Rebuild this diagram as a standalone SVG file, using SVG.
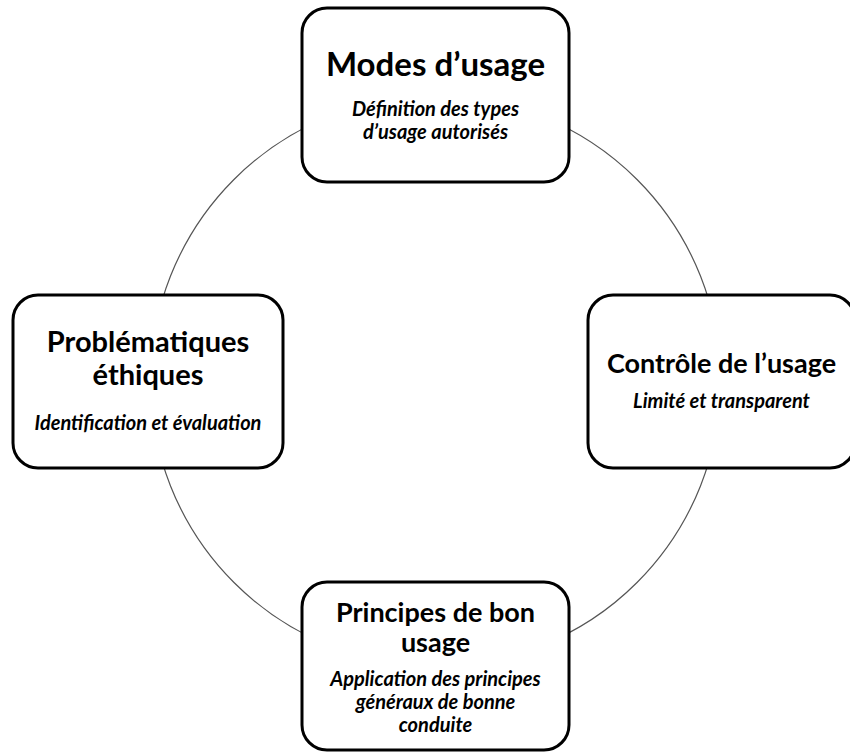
<svg xmlns="http://www.w3.org/2000/svg" width="850" height="753" viewBox="0 0 850 753">
<style>
.box{fill:#fff;stroke:#000;stroke-width:3}
.ring{fill:none;stroke:#555;stroke-width:1.2}
.t{font-family:Lato,"Liberation Sans",sans-serif;font-weight:700;fill:#000;text-anchor:middle}
.s{font-family:Lato,"Liberation Sans",sans-serif;font-weight:700;font-style:italic;fill:#000;text-anchor:middle;font-size:20px}
</style>
<rect width="850" height="753" fill="#fff"/>
<g id="connectors">
<circle class="ring" cx="435.5" cy="381" r="285"/>
</g>
<g id="node-modes">
<rect class="box" x="302" y="8" width="267" height="174" rx="25"/>
<text class="t" x="435.5" y="76" font-size="33">Modes d’usage</text>
<text class="s" x="435.5" y="116">Définition des types</text>
<text class="s" x="435.5" y="139">d’usage autorisés</text>
</g>
<g id="node-ethique">
<rect class="box" x="13" y="295" width="270" height="173" rx="25"/>
<text class="t" x="148" y="352" font-size="29">Problématiques</text>
<text class="t" x="148" y="385" font-size="29">éthiques</text>
<text class="s" x="148" y="430">Identification et évaluation</text>
</g>
<g id="node-controle">
<rect class="box" x="588" y="295" width="267" height="173" rx="25"/>
<text class="t" x="721.5" y="373" font-size="27">Contrôle de l’usage</text>
<text class="s" x="721.5" y="408">Limité et transparent</text>
</g>
<g id="node-principes">
<rect class="box" x="302" y="582" width="267" height="168" rx="25"/>
<text class="t" x="435.5" y="622" font-size="27">Principes de bon</text>
<text class="t" x="435.5" y="652" font-size="27">usage</text>
<text class="s" x="435.5" y="686">Application des principes</text>
<text class="s" x="435.5" y="709">généraux de bonne</text>
<text class="s" x="435.5" y="732">conduite</text>
</g>
</svg>
